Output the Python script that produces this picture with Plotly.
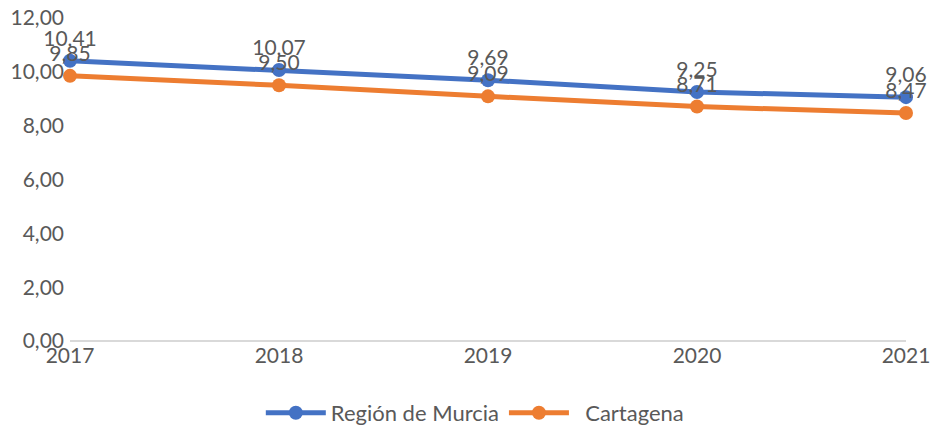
import plotly.graph_objects as go

years = [2017, 2018, 2019, 2020, 2021]
murcia = [10.41, 10.07, 9.69, 9.25, 9.06]
cartagena = [9.85, 9.50, 9.09, 8.71, 8.47]
ytick_vals = [0, 2, 4, 6, 8, 10, 12]
ytick_text = ["0,00", "2,00", "4,00", "6,00", "8,00", "10,00", "12,00"]

def fmt(v):
    return f"{v:.2f}".replace(".", ",")

FONT = "Lato, Open Sans, sans-serif"
GREY = "#595959"

fig = go.Figure()
fig.add_trace(go.Scatter(
    x=years, y=murcia, name="Región de Murcia", mode="lines+markers+text",
    line=dict(color="#4472C4", width=5), marker=dict(size=14, color="#4472C4"),
    text=[fmt(v) for v in murcia], textposition="top center",
    textfont=dict(size=21, color=GREY, family=FONT), cliponaxis=False))
fig.add_trace(go.Scatter(
    x=years, y=cartagena, name="  Cartagena", mode="lines+markers+text",
    line=dict(color="#ED7D31", width=5), marker=dict(size=14, color="#ED7D31"),
    text=[fmt(v) for v in cartagena], textposition="top center",
    textfont=dict(size=21, color=GREY, family=FONT), cliponaxis=False))

fig.update_layout(
    width=931, height=428,
    margin=dict(l=70, r=25, t=18, b=87, autoexpand=False),
    plot_bgcolor="white", paper_bgcolor="white",
    font=dict(family=FONT, size=21, color=GREY),
    showlegend=True,
    legend=dict(orientation="h", x=0.51, xanchor="center", xref="container",
                y=0.035, yanchor="middle", yref="container",
                font=dict(size=22, color=GREY), itemwidth=60),
    xaxis=dict(range=[2017, 2021], tickvals=years, ticktext=[str(y) for y in years],
               showgrid=False, zeroline=False, showline=False, ticks="",
               automargin=False, tickfont=dict(size=21, color=GREY)),
    yaxis=dict(range=[0, 12], tickvals=ytick_vals, ticktext=ytick_text,
               showgrid=False, zeroline=True, zerolinecolor="#D9D9D9", zerolinewidth=1.5,
               showline=False, ticks="", automargin=False, ticklabelstandoff=5,
               tickfont=dict(size=21, color=GREY)),
)
fig.write_html("out.html", config={"displayModeBar": False},
               post_script="document.body.style.margin='0';document.body.style.overflow='hidden';")
